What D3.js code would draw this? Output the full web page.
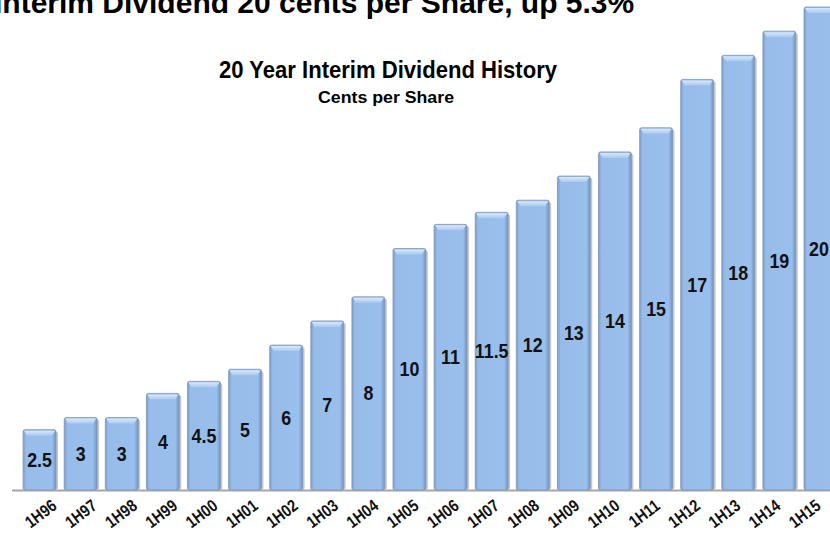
<!DOCTYPE html>
<html>
<head>
<meta charset="utf-8">
<script src="https://cdn.jsdelivr.net/npm/d3@7/dist/d3.min.js"></script>
<style>
  body { margin: 0; background: #fff; }
  svg { display: block; }
</style>
</head>
<body>
<div id="chart"></div>
<script>
// periods and interim dividend, cents per share
var periods = ["1H96", "1H97", "1H98", "1H99", "1H00", "1H01", "1H02", "1H03", "1H04", "1H05",
               "1H06", "1H07", "1H08", "1H09", "1H10", "1H11", "1H12", "1H13", "1H14", "1H15"];
var dividends = [2.5, 3, 3, 4, 4.5, 5, 6, 7, 8, 10, 11, 11.5, 12, 13, 14, 15, 17, 18, 19, 20];
var valueLabels = ["2.5", "3", "3", "4", "4.5", "5", "6", "7", "8", "10",
                   "11", "11.5", "12", "13", "14", "15", "17", "18", "19", "20"];

var width = 830, height = 538;
var baseY = 490;
var sans = "'Liberation Sans', Arial, sans-serif";

var svg = d3.select("#chart").append("svg")
  .attr("width", width)
  .attr("height", height);

var defs = svg.append("defs");

// side shading of the bars
var sideGrad = defs.append("linearGradient")
  .attr("id", "barGrad")
  .attr("x1", "0%").attr("x2", "100%").attr("y1", "0%").attr("y2", "0%");
sideGrad.append("stop").attr("offset", "0%").attr("stop-color", "#7b9ccc");
sideGrad.append("stop").attr("offset", "9%").attr("stop-color", "#97bcea");
sideGrad.append("stop").attr("offset", "88%").attr("stop-color", "#99bfed");
sideGrad.append("stop").attr("offset", "100%").attr("stop-color", "#7193c4");

// bevel at the top
var topGrad = defs.append("linearGradient")
  .attr("id", "topGrad")
  .attr("x1", "0%").attr("x2", "0%").attr("y1", "0%").attr("y2", "100%");
topGrad.append("stop").attr("offset", "0%").attr("stop-color", "#d9e8f8");
topGrad.append("stop").attr("offset", "100%").attr("stop-color", "#a9c9f0");

var x = d3.scaleBand()
  .domain(periods)
  .range([19, 841])
  .paddingInner(0.2)
  .paddingOuter(0.1);

// category labels run on a slightly tighter spacing than the bars
var xLabel = d3.scalePoint()
  .domain(periods)
  .range([58, 822]);

var y = d3.scaleLinear()
  .domain([0, 20])
  .range([baseY, 7]);

var data = periods.map(function (p, i) {
  return { period: p, value: dividends[i], label: valueLabels[i] };
});

// main heading, mostly cut off at top of the slide
svg.append("text")
  .attr("x", -6)
  .attr("y", 13)
  .style("font-family", sans)
  .style("font-weight", "bold")
  .style("font-size", "30px")
  .style("fill", "#000")
  .text("Interim Dividend 20 cents per Share, up 5.3%");

svg.append("text")
  .attr("x", 388)
  .attr("y", 78)
  .attr("text-anchor", "middle")
  .attr("textLength", 338)
  .attr("lengthAdjust", "spacingAndGlyphs")
  .style("font-family", sans)
  .style("font-weight", "bold")
  .style("font-size", "24px")
  .style("fill", "#000")
  .text("20 Year Interim Dividend History");

svg.append("text")
  .attr("x", 386)
  .attr("y", 103)
  .attr("text-anchor", "middle")
  .attr("textLength", 136)
  .attr("lengthAdjust", "spacingAndGlyphs")
  .style("font-family", sans)
  .style("font-weight", "bold")
  .style("font-size", "16px")
  .style("fill", "#000")
  .text("Cents per Share");

// baseline
svg.append("line")
  .attr("x1", 12).attr("x2", width)
  .attr("y1", baseY + 0.5).attr("y2", baseY + 0.5)
  .style("stroke", "#a6a6a6")
  .style("stroke-width", 2);

var bars = svg.selectAll(".bar")
  .data(data)
  .enter().append("g")
  .attr("class", "bar");

// soft shadow
bars.append("rect")
  .attr("x", function (d) { return x(d.period) + 2; })
  .attr("y", function (d) { return y(d.value) + 2; })
  .attr("width", x.bandwidth())
  .attr("height", function (d) { return baseY - y(d.value) - 2; })
  .attr("rx", 2)
  .style("fill", "#c8c8c8");

bars.append("rect")
  .attr("x", function (d) { return x(d.period); })
  .attr("y", function (d) { return y(d.value); })
  .attr("width", x.bandwidth())
  .attr("height", function (d) { return baseY - y(d.value); })
  .attr("rx", 2)
  .style("fill", "url(#barGrad)")
  .style("stroke", "#7f97b8")
  .style("stroke-width", 0.8);

bars.append("path")
  .attr("d", function (d) {
    var x0 = x(d.period), w = x.bandwidth(), t = y(d.value);
    return "M" + (x0 + 1) + "," + (t + 1) +
      "L" + (x0 + w - 1) + "," + (t + 1) +
      "L" + (x0 + w - 4) + "," + (t + 6) +
      "L" + (x0 + 4) + "," + (t + 6) + "Z";
  })
  .style("fill", "url(#topGrad)");

// value labels sit halfway up each bar, condensed like the original font
bars.append("text")
  .attr("text-anchor", "middle")
  .attr("transform", function (d) {
    var cx = Math.min(x(d.period) + x.bandwidth() / 2, width - 11);
    var cy = (baseY + y(d.value)) / 2 + 7;
    return "translate(" + cx + "," + cy + ") scale(0.85,1)";
  })
  .style("font-family", sans)
  .style("font-weight", "bold")
  .style("font-size", "21px")
  .style("fill", "#111")
  .text(function (d) { return d.label; });

// period labels
svg.selectAll(".period")
  .data(data)
  .enter().append("text")
  .attr("class", "period")
  .attr("text-anchor", "end")
  .attr("transform", function (d) {
    return "translate(" + xLabel(d.period) + "," + (baseY + 18) + ") rotate(-37) scale(0.85,1)";
  })
  .style("font-family", sans)
  .style("font-weight", "bold")
  .style("font-size", "17px")
  .style("fill", "#111")
  .text(function (d) { return d.period; });
</script>
</body>
</html>
